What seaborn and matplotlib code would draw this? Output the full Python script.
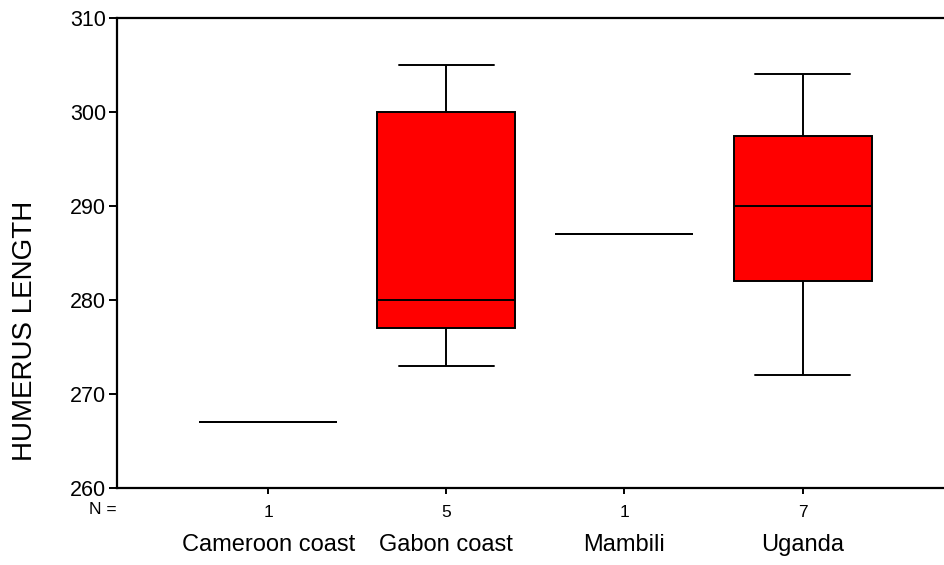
import matplotlib
matplotlib.use("Agg")
import matplotlib.pyplot as plt
import matplotlib.transforms as mtransforms
import seaborn as sns
import pandas as pd

categories = ["Cameroon coast", "Gabon coast", "Mambili", "Uganda"]
cameroon = [267]
gabon = [273, 277, 280, 300, 305]
mambili = [287]
uganda = [272, 280, 284, 290, 296, 299, 304]
groups = [cameroon, gabon, mambili, uganda]
n_labels = [str(len(g)) for g in groups]
yticks = [260, 270, 280, 290, 300, 310]

rows = []
for cat, vals in zip(categories, groups):
    for v in vals:
        rows.append({"region": cat, "length": v})
df = pd.DataFrame(rows)

sns.set_style("white")
plt.rcParams["font.family"] = ["Liberation Sans", "DejaVu Sans"]
plt.rcParams["text.color"] = "black"
plt.rcParams["axes.labelcolor"] = "black"
plt.rcParams["xtick.color"] = "black"
plt.rcParams["ytick.color"] = "black"

fig = plt.figure(figsize=(9.45, 5.65), dpi=100)
ax = fig.add_axes([117 / 945, 1 - 488 / 565, 1 - 117 / 945, 470 / 565])

sns.boxplot(data=df, x="region", y="length", order=categories, ax=ax,
            color="#ff0000", saturation=1, linecolor="black", linewidth=1.4,
            width=0.775, whis=1.5, capwidths=0.53)

ax.set_ylim(260, 310)
ax.set_xlim(-0.85, 3.8)
ax.set_yticks(yticks)
ax.set_yticklabels([str(t) for t in yticks], fontsize=15.5, color="black")
ax.set_xticks(range(len(categories)))
ax.set_xticklabels(n_labels, fontsize=12.5, color="black")
ax.tick_params(axis="y", direction="out", length=6, width=1.4, left=True, pad=2, colors="black")
ax.tick_params(axis="x", direction="out", length=4, width=1.4, bottom=True, pad=8, colors="black")

for side in ["left", "bottom", "top"]:
    ax.spines[side].set_visible(True)
    ax.spines[side].set_color("black")
    ax.spines[side].set_linewidth(1.6)
ax.spines["right"].set_visible(False)

ax.set_xlabel("")
ax.set_ylabel("HUMERUS LENGTH", fontsize=20, color="black")
ax.yaxis.set_label_coords(-0.096, 0.335)

trans = mtransforms.blended_transform_factory(ax.transData, fig.transFigure)
for i, cat in enumerate(categories):
    ax.text(i, 1 - 545 / 565, cat, transform=trans, ha="center", va="center",
            fontsize=17, color="black")
ax.text(103 / 945, 1 - 510 / 565, "N =", transform=fig.transFigure, ha="center",
        va="center", fontsize=12.5, color="black")

fig.savefig("out.png", dpi=100)
